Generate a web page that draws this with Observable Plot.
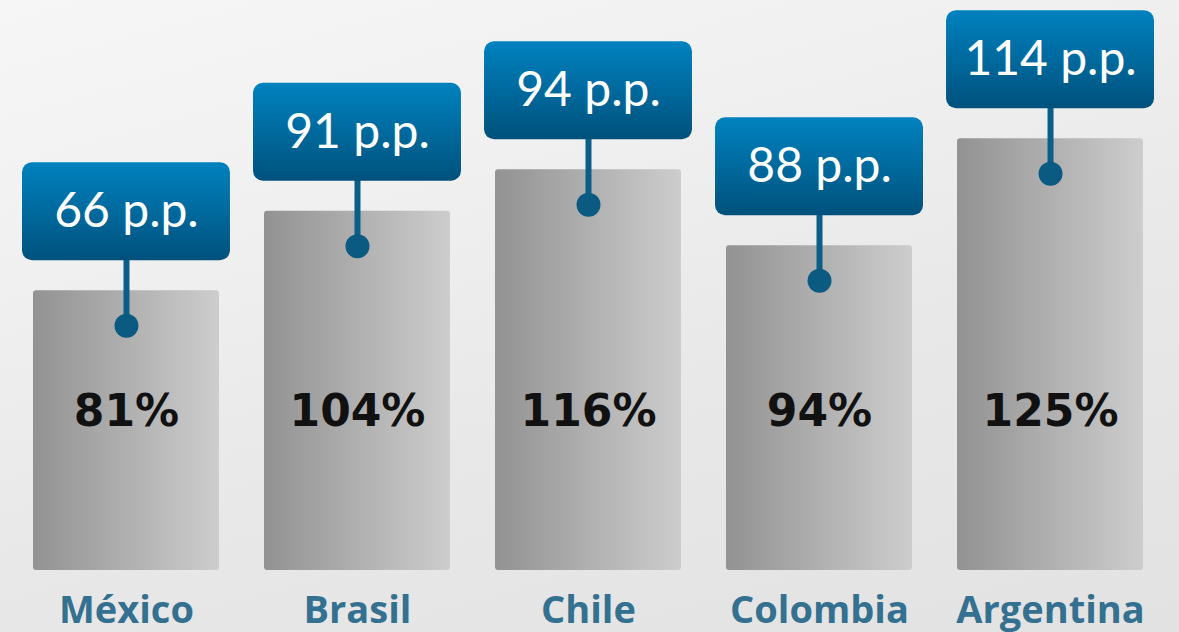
<!DOCTYPE html>
<html>
<head>
<meta charset="utf-8">
<script src="https://cdn.jsdelivr.net/npm/d3@7"></script>
<script src="https://cdn.jsdelivr.net/npm/@observablehq/plot@0.6"></script>
<style>
  html, body { margin: 0; padding: 0; overflow: hidden; }
  body {
    width: 1179px; height: 632px;
    background: linear-gradient(165deg, #f6f6f6 0%, #f0f0f0 30%, #e8e8e8 60%, #e2e2e2 100%);
  }
</style>
</head>
<body>
<div id="chart"></div>
<script>
const countries = ["México", "Brasil", "Chile", "Colombia", "Argentina"];
const ratios = [81, 104, 116, 94, 125];
const ppValues = [66, 91, 94, 88, 114];

const data = countries.map((c, i) => ({country: c, ratio: ratios[i], pp: ppValues[i]}));

const chart = Plot.plot({
  width: 1179,
  height: 632,
  marginTop: 0,
  marginBottom: 62,
  marginLeft: 33,
  marginRight: 36,
  style: {background: "transparent", overflow: "visible"},
  x: {domain: countries, paddingInner: 0.195, paddingOuter: 0, round: false, axis: null},
  y: {domain: [0, 165], axis: null},
  marks: [
    Plot.barY(data, {x: "country", y: "ratio", fill: "url(#barGrad)", rx: 3, ariaLabel: "bars"}),
    Plot.ruleX(data, {x: "country", y1: "ratio", y2: "ratio", insetTop: -32, insetBottom: -35, stroke: "#0b5e87", strokeWidth: 6}),
    Plot.dot(data, {x: "country", y: "ratio", dy: 35, r: 12, fill: "#0a5a82"}),
    Plot.barY(data, {x: "country", y1: "ratio", y2: "ratio", insetTop: -128, insetBottom: 30, insetLeft: -11, insetRight: -11, rx: 10, fill: "url(#boxGrad)", ariaLabel: "boxes"}),
    Plot.text(data, {x: "country", y: "ratio", dy: -79, text: d => `${d.pp} p.p.`, fill: "white", fontSize: 48, fontFamily: "Lato", fontWeight: 400}),
    Plot.text(data, {x: "country", frameAnchor: "bottom", dy: -145, text: d => `${d.ratio}%`, fill: "#111", fontSize: 44, fontWeight: "bold", fontFamily: "DejaVu Sans"}),
    Plot.text(data, {x: "country", frameAnchor: "bottom", dy: 52, text: "country", fill: "#34708f", fontSize: 38, fontWeight: "bold", fontFamily: "Open Sans"})
  ]
});

const svg = d3.select(chart);
const defs = svg.insert("defs", ":first-child");
const bg = defs.append("linearGradient").attr("id", "barGrad").attr("x1", 0).attr("x2", 1).attr("y1", 0).attr("y2", 0);
bg.append("stop").attr("offset", "0%").attr("stop-color", "#929292");
bg.append("stop").attr("offset", "100%").attr("stop-color", "#cdcdcd");
const boxg = defs.append("linearGradient").attr("id", "boxGrad").attr("x1", 0).attr("x2", 0).attr("y1", 0).attr("y2", 1);
boxg.append("stop").attr("offset", "0%").attr("stop-color", "#0082bf");
boxg.append("stop").attr("offset", "100%").attr("stop-color", "#00517c");
const sh = defs.append("filter").attr("id", "shadow").attr("x", "-20%").attr("y", "-20%").attr("width", "140%").attr("height", "140%");
sh.append("feDropShadow").attr("dx", 0).attr("dy", 3).attr("stdDeviation", 1).attr("flood-color", "#222").attr("flood-opacity", 0.9);
const sh2 = defs.append("filter").attr("id", "shadow2").attr("x", "-20%").attr("y", "-20%").attr("width", "140%").attr("height", "140%");
sh2.append("feDropShadow").attr("dx", 0).attr("dy", 3).attr("stdDeviation", 2.5).attr("flood-color", "#000").attr("flood-opacity", 0.45);
svg.select('g[aria-label="bars"]').attr("filter", "url(#shadow)");
svg.select('g[aria-label="boxes"]').attr("filter", "url(#shadow2)");

document.getElementById("chart").appendChild(chart);
</script>
</body>
</html>
